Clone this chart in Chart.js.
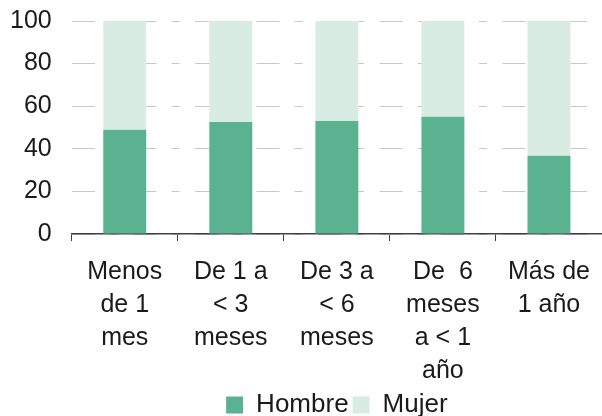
<!DOCTYPE html>
<html lang="es">
<head>
    <meta charset="UTF-8">
    <title>Hombre / Mujer por duración</title>
    <script src="https://cdn.jsdelivr.net/npm/chart.js"></script>
    <style>
        html, body {
            margin: 0;
            padding: 0;
            background: #ffffff;
        }
        #wrap {
            width: 602px;
            height: 416px;
        }
    </style>
</head>
<body>

<div id="wrap">
    <canvas id="chart" width="602" height="416"></canvas>
</div>

<script>
    // Categories (multi-line labels) and stacked shares in %
    const categories = [
        ['Menos', 'de 1', 'mes'],
        ['De 1 a', '< 3', 'meses'],
        ['De 3 a', '< 6', 'meses'],
        ['De  6', 'meses', 'a < 1', 'año'],
        ['Más de', '1 año']
    ];
    const hombre = [49, 52.6, 53.1, 55, 36.7];
    const mujer = [51, 47.4, 46.9, 45, 63.3];
    const yTicks = [0, 20, 40, 60, 80, 100];

    const darkGreen = '#5bb290';
    const lightGreen = '#d8ece3';
    const textColor = '#1a1a1a';
    const fontFamily = "'Liberation Sans', Arial, sans-serif";
    const fontSize = 25;
    const lineHeight = 1.33;

    const ctx = document.getElementById('chart').getContext('2d');
    new Chart(ctx, {
        type: 'bar',
        data: {
            labels: categories,
            datasets: [
                {
                    label: 'Hombre',
                    data: hombre,
                    backgroundColor: darkGreen,
                    barPercentage: 0.405,
                    categoryPercentage: 1
                },
                {
                    label: 'Mujer',
                    data: mujer,
                    backgroundColor: lightGreen,
                    barPercentage: 0.405,
                    categoryPercentage: 1
                }
            ]
        },
        options: {
            responsive: false,
            animation: false,
            layout: {
                padding: { top: 21, left: 10, right: -2, bottom: -12 }
            },
            plugins: {
                title: { display: false },
                tooltip: { enabled: false },
                legend: {
                    position: 'bottom',
                    fullSize: false,
                    labels: {
                        boxWidth: 17,
                        boxHeight: 17,
                        padding: 4,
                        color: textColor,
                        font: { family: fontFamily, size: 26 }
                    }
                }
            },
            scales: {
                x: {
                    stacked: true,
                    grid: {
                        display: true,
                        drawOnChartArea: false,
                        drawTicks: true,
                        tickLength: 7,
                        color: '#404040',
                        lineWidth: 1
                    },
                    border: { display: true, color: '#404040', width: 1.5 },
                    ticks: {
                        color: textColor,
                        padding: 14,
                        maxRotation: 0,
                        autoSkip: false,
                        font: { family: fontFamily, size: fontSize, lineHeight: lineHeight }
                    },
                    afterFit: (axis) => {
                        // tick marks + padding + four text lines, no extra room below
                        axis.height = 7 + 14 + 4 * fontSize * lineHeight;
                        axis.paddingLeft = 0;
                        axis.paddingRight = 0;
                    }
                },
                y: {
                    stacked: true,
                    min: 0,
                    max: 100,
                    afterBuildTicks: (axis) => {
                        axis.ticks = yTicks.map(v => ({ value: v }));
                    },
                    afterFit: (axis) => {
                        // keep only one ticks.padding between labels and plot
                        axis.width -= axis.options.ticks.padding;
                        axis.paddingTop = 0;
                        axis.paddingBottom = 0;
                    },
                    grid: {
                        color: '#c8c8c8',
                        lineWidth: 1,
                        drawTicks: false
                    },
                    border: { display: false, dash: [23, 15, 8, 15.5] },
                    ticks: {
                        color: textColor,
                        padding: 20,
                        font: { family: fontFamily, size: fontSize }
                    }
                }
            }
        }
    });
</script>

</body>
</html>
